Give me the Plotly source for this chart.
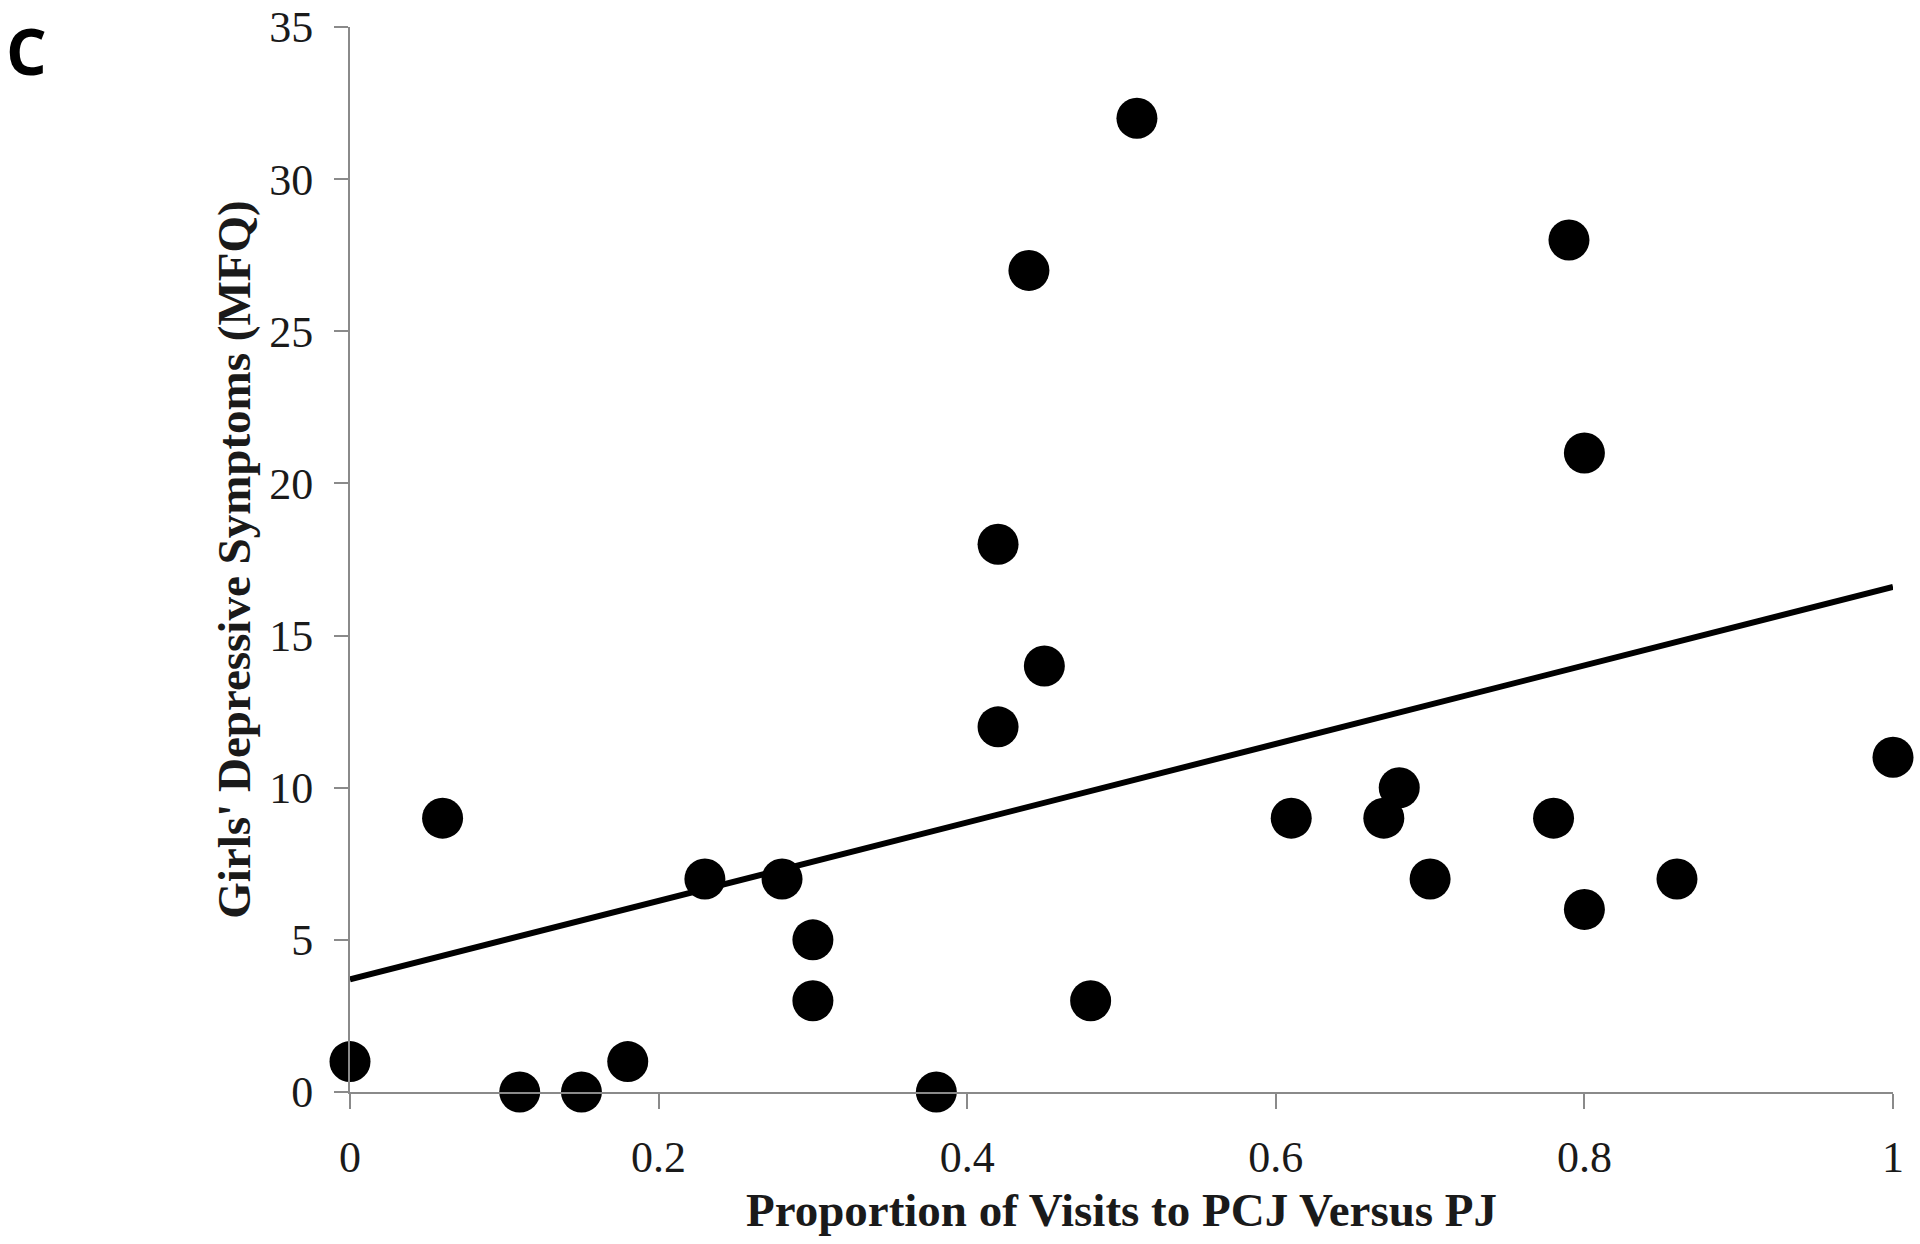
"""
Scatter of girls' depressive symptoms vs proportion of visits (panel C)
"""

import plotly.graph_objects as go

# proportion of visits to PCJ versus PJ
visit_prop = [0.00, 0.06, 0.11, 0.15, 0.18, 0.23, 0.28, 0.30, 0.30, 0.38,
              0.42, 0.42, 0.44, 0.45, 0.48, 0.51, 0.61, 0.67, 0.68, 0.70,
              0.78, 0.79, 0.80, 0.80, 0.86, 1.00]

# girls' depressive symptoms (MFQ)
mfq_scores = [1, 9, 0, 0, 1, 7, 7, 5, 3, 0,
              18, 12, 27, 14, 3, 32, 9, 9, 10, 7,
              9, 28, 21, 6, 7, 11]

# fitted regression line end points
trend_x = [0, 1]
trend_y = [3.7, 16.6]

x_ticks = [0, 0.2, 0.4, 0.6, 0.8, 1]
x_tick_labels = ['0', '0.2', '0.4', '0.6', '0.8', '1']
y_ticks = [0, 5, 10, 15, 20, 25, 30, 35]

serif = 'Liberation Serif'
axis_grey = '#8a8a8a'

fig_w, fig_h = 1920, 1244
m_l, m_r, m_t, m_b = 350, 27, 27, 152

fig = go.Figure()

# regression line
fig.add_trace(go.Scatter(x=trend_x, y=trend_y, mode='lines',
                         line=dict(color='black', width=6),
                         showlegend=False, hoverinfo='skip'))

# observed points
fig.add_trace(go.Scatter(x=visit_prop, y=mfq_scores, mode='markers',
                         marker=dict(color='black', size=41, line=dict(width=0)),
                         cliponaxis=False, showlegend=False))

fig.update_layout(
    width=fig_w, height=fig_h,
    paper_bgcolor='white', plot_bgcolor='white',
    margin=dict(l=m_l, r=m_r, t=m_t, b=m_b, autoexpand=False),
    font=dict(family=serif, color='#1a1a1a'),
)

fig.update_xaxes(
    range=[0, 1], tickvals=x_ticks, ticktext=x_tick_labels,
    showgrid=False, zeroline=False, automargin=False,
    showline=True, linecolor=axis_grey, linewidth=2,
    ticks='outside', ticklen=15, tickwidth=2, tickcolor=axis_grey,
    tickfont=dict(size=44, family=serif), ticklabelstandoff=10,
    title=dict(text='<b>Proportion of Visits to PCJ Versus PJ</b>',
               font=dict(size=47, family=serif, color='#1a1a1a'), standoff=12),
)

fig.update_yaxes(
    range=[0, 35], tickvals=y_ticks,
    showgrid=False, zeroline=False, automargin=False,
    showline=True, linecolor=axis_grey, linewidth=2,
    ticks='outside', ticklen=14, tickwidth=2, tickcolor=axis_grey,
    tickfont=dict(size=44, family=serif), ticklabelstandoff=12,
    title=dict(text="<b>Girls' Depressive Symptoms (MFQ)</b>",
               font=dict(size=47, family=serif, color='#1a1a1a'), standoff=4),
)

# panel letter, box top at the figure's top edge
plot_w = fig_w - m_l - m_r
plot_h = fig_h - m_t - m_b
fig.add_annotation(text='<b>C</b>', xref='paper', yref='paper',
                   x=-m_l / plot_w, y=1 + m_t / plot_h,
                   xanchor='left', yanchor='top', showarrow=False,
                   xshift=4, yshift=-5,
                   font=dict(family='Open Sans', size=64, color='black'))

# drop the page's default 8px body margin so the figure sits at 0,0
fig.write_html("out.html", config={'displayModeBar': False},
               post_script="document.body.style.margin='0';")
